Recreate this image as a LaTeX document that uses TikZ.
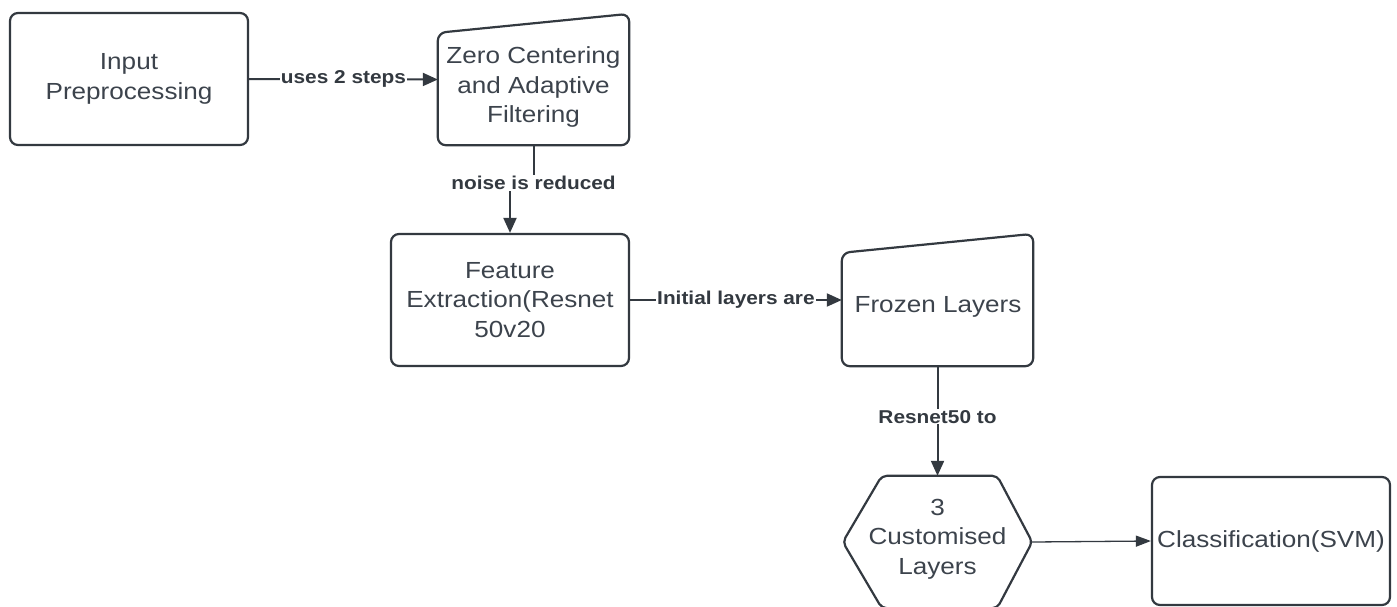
\documentclass[tikz,border=0pt]{standalone}
\usepackage{fontspec}
\setmainfont[FakeStretch=1.12]{Liberation Sans}
\usetikzlibrary{arrows.meta,calc}
\definecolor{ink}{HTML}{333940}
\definecolor{txt}{HTML}{3C434C}
\begin{document}
\begin{tikzpicture}[x=1pt,y=-1pt,
  box/.style={draw=ink,line width=2.2pt,rounded corners=8pt,inner sep=0pt,
    text=txt,align=center,font=\fontsize{23.3}{29.5}\selectfont},
  frame/.style={inner sep=0pt,draw=none},
  outline/.style={draw=ink,line width=2.2pt,rounded corners=8pt},
  txtnode/.style={text=txt,align=center,font=\fontsize{23.3}{29.5}\selectfont,inner sep=0pt},
  lbl/.style={fill=white,text=ink,font=\bfseries\fontsize{18.6}{22}\selectfont,inner sep=1pt},
  conn/.style={draw=ink,line width=2pt,-{Triangle[length=15pt,width=13pt]}},
  thinconn/.style={draw=ink,line width=1.3pt,-{Triangle[length=15pt,width=11pt]}},
]
\useasboundingbox (0,0) rectangle (1397,606);

% Input preprocessing
\node[box,minimum width=238pt,minimum height=132pt] (inp) at (129,79) {Input\\Preprocessing};

% Zero centering (manual input shape)
\node[frame,minimum width=191pt,minimum height=131pt] (zero) at (533.5,79.5) {};
\draw[outline] (zero.south west) -- (zero.south east) -- (zero.north east)
  -- ($(zero.north west)+(0,19)$) -- cycle;
\node[txtnode] (zerot) at (533.5,87) {Zero Centering\\and Adaptive\\Filtering};

% Feature extraction
\node[box,minimum width=238pt,minimum height=132pt] (feat) at (510,300) {Feature\\Extraction(Resnet\\50v20};

% Frozen layers (manual input shape)
\node[frame,minimum width=191pt,minimum height=132pt] (froz) at (937.5,300) {};
\draw[outline] (froz.south west) -- (froz.south east) -- (froz.north east)
  -- ($(froz.north west)+(0,19)$) -- cycle;
\node[txtnode] (frozt) at (938,307) {Frozen Layers};

% Hexagon
\node[frame,minimum width=189pt,minimum height=132pt] (hex) at (937.5,542) {};
\draw[outline,rounded corners=5pt] (hex.west) -- ($(hex.north west)+(39,0)$) -- ($(hex.north east)+(-35,0)$)
  -- (hex.east) -- ($(hex.south east)+(-35,0)$) -- ($(hex.south west)+(39,0)$) -- cycle;
\node[txtnode] (hext) at (937.5,539) {3\\Customised\\Layers};

% Classification
\node[box,minimum width=238pt,minimum height=128pt] (cls) at (1271,541) {Classification(SVM)};

% Connectors
\draw[conn] (inp.east) -- node[lbl]{uses 2 steps} (zero.west);
\draw[conn] (zero.south) -- ++(0,38) node[lbl]{noise is reduced} -| (feat.north);
\draw[conn] (feat.east) -- node[lbl]{Initial layers are} (froz.west);
\draw[conn] (froz.south) -- node[lbl,pos=0.46]{Resnet50 to} (hex.north);
\draw[thinconn] (hex.east) -- (cls.west);
\end{tikzpicture}
\end{document}
